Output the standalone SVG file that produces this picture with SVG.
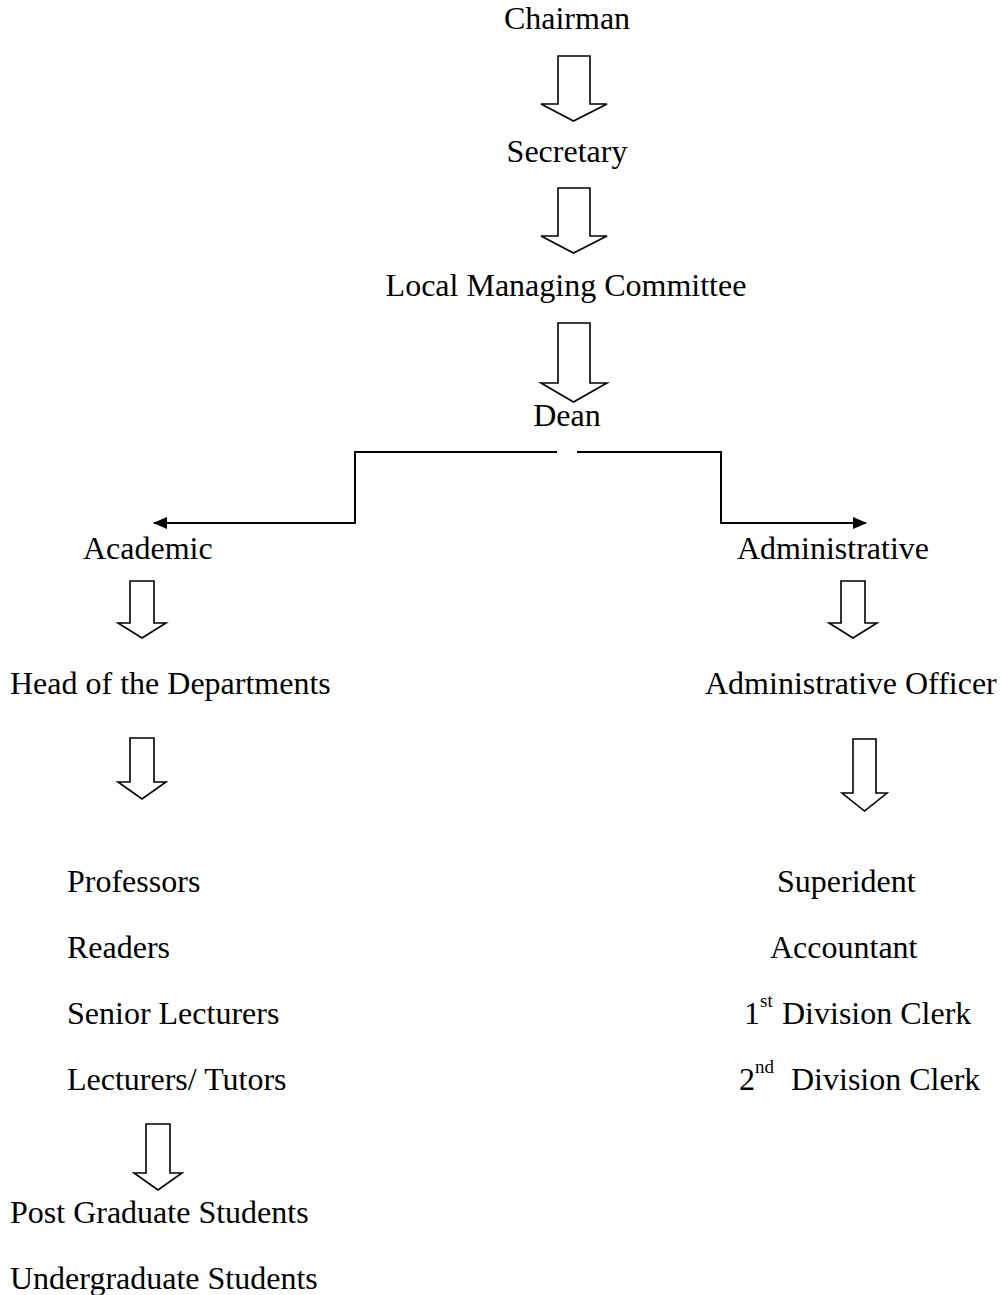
<svg xmlns="http://www.w3.org/2000/svg" width="1002" height="1295" viewBox="0 0 1002 1295">
<defs>
<style>
text{font-family:"Liberation Serif","Times New Roman",serif;font-size:32px;fill:#000}
.c{text-anchor:middle}
.sup{font-size:19px}
.blk{fill:#fff;stroke:#000;stroke-width:1.6;stroke-linejoin:miter}
.ln{fill:none;stroke:#000;stroke-width:2}
</style>
<marker id="ah" markerWidth="14" markerHeight="12" refX="13" refY="6" orient="auto" markerUnits="userSpaceOnUse">
<path d="M0,0 L14,6 L0,12 Z" fill="#000"/>
</marker>
</defs>
<rect width="1002" height="1295" fill="#fff"/>

<g id="connectors">
<path class="blk" d="M558,56 H590 V104 H607 L573.5,121 L541,104 H558 Z"/>
<path class="blk" d="M558,188 H590 V236 H607 L573.5,253 L541,236 H558 Z"/>
<path class="blk" d="M558,323 H590 V383 H607 L573.5,402 L541,383 H558 Z"/>
<polyline class="ln" points="557,452 355,452 355,523 154,523" marker-end="url(#ah)"/>
<polyline class="ln" points="577,452 721,452 721,523 866,523" marker-end="url(#ah)"/>
<path class="blk" d="M130,581 H154 V623 H166 L142,638 L118,623 H130 Z"/>
<path class="blk" d="M841,581 H865 V623 H877 L853,638 L829,623 H841 Z"/>
<path class="blk" d="M130,738 H154 V782 H166 L142,799 L118,782 H130 Z"/>
<path class="blk" d="M853,739 H876 V793 H887 L864.5,811 L842,793 H853 Z"/>
<path class="blk" d="M146,1124 H170 V1173 H182 L158,1190 L134,1173 H146 Z"/>
</g>

<g id="chairman"><text class="c" x="567" y="29">Chairman</text></g>
<g id="secretary"><text class="c" x="567" y="162">Secretary</text></g>
<g id="lmc"><text class="c" x="566" y="296">Local Managing Committee</text></g>
<g id="dean"><text class="c" x="567" y="426">Dean</text></g>
<g id="academic"><text x="83" y="559">Academic</text></g>
<g id="administrative"><text x="737" y="559">Administrative</text></g>
<g id="hod"><text x="10" y="694">Head of the Departments</text></g>
<g id="admin-officer"><text x="705" y="694">Administrative Officer</text></g>
<g id="academic-staff">
<text x="67" y="892">Professors</text>
<text x="67" y="958">Readers</text>
<text x="67" y="1024">Senior Lecturers</text>
<text x="67" y="1090">Lecturers/ Tutors</text>
</g>
<g id="admin-staff">
<text x="777" y="892">Superident</text>
<text x="770" y="958">Accountant</text>
<text x="744" y="1024">1<tspan class="sup" x="760" dy="-17">st</tspan><tspan x="782" dy="17">Division Clerk</tspan></text>
<text x="739" y="1090">2<tspan class="sup" x="755" dy="-17">nd</tspan><tspan x="791" dy="17">Division Clerk</tspan></text>
</g>
<g id="students">
<text x="10" y="1223">Post Graduate Students</text>
<text x="10" y="1289">Undergraduate Students</text>
</g>
</svg>
